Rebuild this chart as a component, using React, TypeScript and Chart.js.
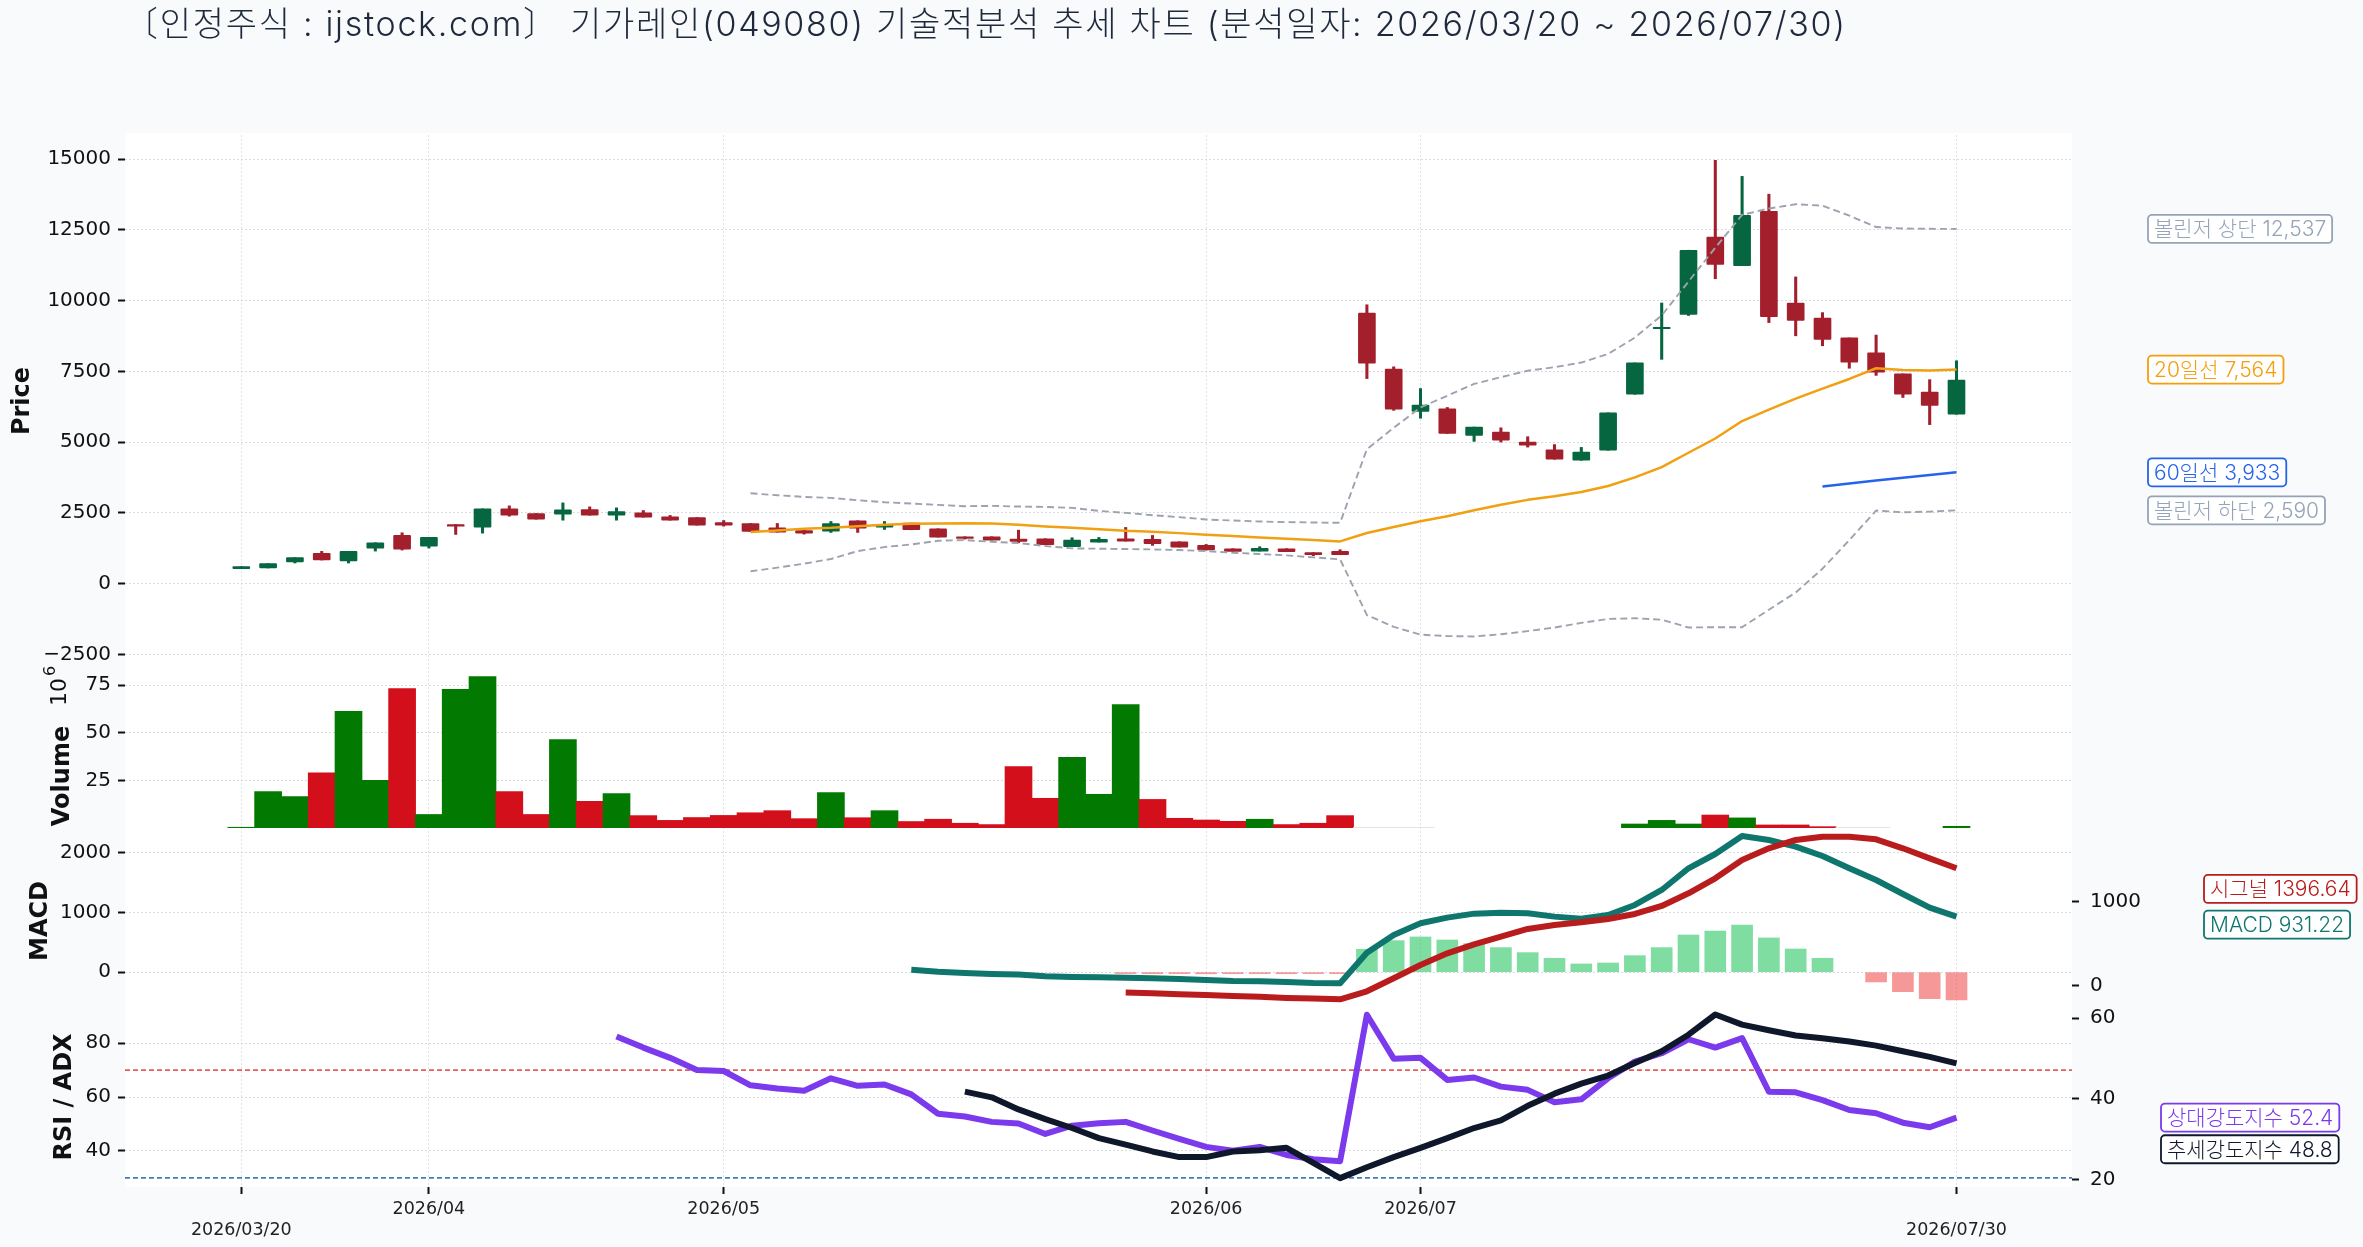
import React, { useEffect, useRef } from "react";
import Chart from "chart.js/auto";

const TITLE = "〔인정주식 : ijstock.com〕 기가레인(049080) 기술적분석 추세 차트 (분석일자: 2026/03/20 ~ 2026/07/30)";

const xTickIndexes = [0, 7, 18, 36, 44, 64];
const xTickLabels = ["2026/03/20", "2026/04", "2026/05", "2026/06", "2026/07", "2026/07/30"];
const xTickRows = [1, 0, 0, 0, 0, 1];

const priceTicks = [-2500, 0, 2500, 5000, 7500, 10000, 12500, 15000];
const volumeTicks = [25, 50, 75];
const macdTicks = [0, 1000, 2000];
const signalTicks = [0, 1000];
const rsiTicks = [40, 60, 80];
const adxTicks = [20, 40, 60];

// 캔들 (index 0 = 03/20)
const opens = [528, 552, 763, 1068, 798, 1256, 1702, 1327, 2090, 1996, 2641, 2477, 2453, 2618, 2418, 2500, 2360, 2336, 2160, 2125, 1972, 1878, 1855, 2219, 1996, 2137, 1937, 1655, 1655, 1573, 1585, 1303, 1467, 1585, 1561, 1479, 1350, 1233, 1150, 1233, 1092, 1139, 9566, 7587, 6087, 6175, 5242, 5356, 5003, 4725, 4360, 4713, 6692, 9012, 9516, 12252, 11243, 13159, 9919, 9390, 8684, 8154, 7411, 6768, 5986];
const closes = [599, 704, 916, 834, 1139, 1444, 1221, 1632, 2031, 2641, 2418, 2277, 2606, 2418, 2547, 2348, 2242, 2066, 2066, 1843, 1820, 1784, 2125, 1960, 2066, 1902, 1644, 1597, 1538, 1491, 1374, 1538, 1561, 1503, 1409, 1291, 1186, 1139, 1244, 1127, 1021, 1021, 7789, 6163, 6314, 5305, 5532, 5066, 4889, 4397, 4650, 6036, 7801, 9062, 11785, 11281, 13021, 9440, 9302, 8634, 7827, 7474, 6692, 6301, 7196];
const highs = [599, 704, 916, 1139, 1139, 1444, 1796, 1632, 2090, 2641, 2747, 2477, 2853, 2712, 2677, 2583, 2407, 2336, 2230, 2125, 2125, 1878, 2195, 2219, 2195, 2137, 1937, 1655, 1655, 1890, 1585, 1620, 1632, 1984, 1702, 1479, 1385, 1233, 1303, 1233, 1092, 1197, 9856, 7663, 6894, 6226, 5532, 5507, 5192, 4914, 4814, 6036, 7801, 9919, 11785, 14962, 14395, 13765, 10840, 9579, 8684, 8785, 7411, 7209, 7877];
const lows = [528, 552, 728, 834, 728, 1150, 1186, 1256, 1737, 1784, 2383, 2277, 2242, 2418, 2242, 2348, 2242, 2066, 2031, 1843, 1820, 1749, 1808, 1808, 1913, 1902, 1644, 1573, 1538, 1444, 1374, 1303, 1467, 1503, 1350, 1291, 1186, 1139, 1150, 1127, 986, 1021, 7247, 6125, 5847, 5305, 5028, 5003, 4826, 4397, 4360, 4713, 6692, 7927, 9478, 10777, 11243, 9226, 8759, 8407, 7612, 7360, 6579, 5620, 5986];

const ma20Start = 19;
const ma20 = [1820, 1878, 1937, 1972, 2031, 2078, 2113, 2125, 2137, 2125, 2078, 2019, 1972, 1925, 1867, 1831, 1784, 1726, 1679, 1632, 1585, 1538, 1491, 1788, 2002, 2204, 2381, 2595, 2784, 2960, 3087, 3238, 3452, 3755, 4120, 4625, 5129, 5746, 6150, 6541, 6894, 7234, 7612, 7549, 7537, 7564];
const ma60Start = 59;
const ma60 = [3432, 3541, 3648, 3744, 3841, 3933];
const bbStart = 19;
const bbUpper = [3193, 3123, 3064, 3029, 2947, 2876, 2829, 2782, 2735, 2747, 2724, 2712, 2677, 2571, 2500, 2418, 2348, 2266, 2231, 2195, 2172, 2160, 2148, 4750, 5507, 6226, 6642, 7058, 7297, 7524, 7650, 7814, 8117, 8697, 9478, 10676, 11873, 13033, 13260, 13411, 13361, 13008, 12605, 12554, 12542, 12537];
const bbLower = [434, 564, 704, 869, 1150, 1291, 1385, 1514, 1538, 1479, 1432, 1327, 1244, 1233, 1221, 1209, 1186, 1150, 1092, 1045, 998, 927, 857, -1112, -1528, -1805, -1856, -1868, -1793, -1680, -1553, -1389, -1250, -1225, -1275, -1553, -1541, -1541, -923, -317, 527, 1536, 2582, 2519, 2545, 2590];

// 거래량 (백만), 1 = green, 0 = red, 2 = pale
const volumes = [0.4, 19.1, 16.5, 29, 61.2, 25, 73.2, 7.1, 72.8, 79.5, 19.1, 7.1, 46.4, 14, 18.1, 6.5, 4, 5.5, 6.6, 8, 9.1, 4.9, 18.6, 5.4, 9.1, 3.4, 4.6, 2.5, 1.8, 32.2, 15.6, 37.1, 17.7, 64.8, 15, 5.1, 4.2, 3.5, 4.6, 1.8, 2.5, 6.5, 0.3, 0.3, 0.3, null, null, null, null, null, null, null, 2.1, 4, 2.1, 6.8, 5.3, 1.6, 1.6, 0.7, 0.3, 0.3, null, null, 0.9];
const volumeUp = [1, 1, 1, 0, 1, 1, 0, 1, 1, 1, 0, 0, 1, 0, 1, 0, 0, 0, 0, 0, 0, 0, 1, 0, 1, 0, 0, 0, 0, 0, 0, 1, 1, 1, 0, 0, 0, 0, 1, 0, 0, 0, 2, 2, 2, 0, 0, 0, 0, 0, 0, 0, 1, 1, 1, 0, 1, 0, 0, 0, 2, 2, 0, 0, 1];

const macdStart = 25;
const macd = [42, 9, -13, -30, -41, -69, -81, -86, -92, -103, -114, -131, -148, -153, -164, -181, -187, 327, 624, 820, 915, 982, 999, 988, 932, 898, 960, 1128, 1379, 1743, 1983, 2285, 2218, 2106, 1949, 1743, 1547, 1312, 1083, 931.22];
const signalStart = 33;
const signal = [-79, -87, -99, -107, -119, -127, -142, -150, -158, -63, 91, 249, 387, 494, 585, 676, 724, 755, 795, 854, 949, 1099, 1277, 1495, 1633, 1732, 1771, 1771, 1740, 1633, 1514, 1396.64];
const histStart = 33;
const hist = [-24, -26, -24, -27, -25, -24, -26, -24, -25, 384, 529, 591, 540, 479, 412, 328, 233, 138, 154, 277, 412, 624, 691, 792, 574, 389, 233, null, -164, -327, -444, -466];

const rsiStart = 14;
const rsi = [82.5, 78.4, 74.6, 70.1, 69.7, 64.4, 63.2, 62.4, 67, 64.2, 64.7, 61, 53.8, 52.8, 50.8, 50.2, 46.3, 49.4, 50.3, 50.8, 47.6, 44.5, 41.5, 40.1, 41.5, 38.5, 36.9, 36.2, 90.6, 74.3, 74.6, 66.4, 67.3, 63.9, 62.7, 58.1, 59.2, 67, 73.2, 76.3, 81.5, 78.4, 81.9, 62, 61.8, 58.9, 55.2, 54, 50.5, 48.8, 52.4];
const adxStart = 27;
const adx = [41.8, 40.4, 37.4, 35, 32.8, 30.3, 28.7, 27, 25.6, 25.6, 27, 27.3, 27.9, 24.2, 20.4, 23.1, 25.6, 27.9, 30.3, 32.8, 34.7, 38.3, 41.3, 43.8, 45.8, 48.9, 51.8, 55.9, 60.9, 58.4, 57, 55.7, 55, 54.2, 53.2, 51.8, 50.4, 48.8];

// 오른쪽 값 라벨: [text, color, axis, value, dy, left]
const sideLabels: [string, string, string, number, number, number][] = [
  ["볼린저 상단 12,537", "#94a3b8", "yPrice", 12537, 0, 2148],
  ["20일선 7,564", "#f59e0b", "yPrice", 7564, 0, 2148],
  ["60일선 3,933", "#2563eb", "yPrice", 3933, 0, 2148],
  ["볼린저 하단 2,590", "#94a3b8", "yPrice", 2590, 0, 2148],
  ["시그널 1396.64", "#b91c1c", "yMacd", 1396.64, 0, 2204],
  ["MACD 931.22", "#0f766e", "yMacd", 931.22, 8, 2204],
  ["상대강도지수 52.4", "#7c3aed", "yRsi", 52.4, 0, 2161],
  ["추세강도지수 48.8", "#0f172a", "yRsi", 48.8, 22, 2161],
];

// 패널 제목: [text, x, y]
const panelTitles: [string, number, number][] = [
  ["Price", 23, 401],
  ["Volume", 63, 776],
  ["MACD", 41, 921],
  ["RSI / ADX", 65, 1097],
];

const GREEN = "#05663f";
const RED = "#a31f2c";
const VOL_COLORS = ["#d40f1c", "#027a02", "#e6dfe0"];

const series = (start: number, list: (number | null)[]) => list.map((y, i) => ({ x: start + i, y }));

const setTicks = (list: number[]) => (axis: any) => {
  axis.ticks = list.map((value) => ({ value }));
};

const yAxis = (opts: any, list: number[]) => ({
  axis: "y",
  type: "linear",
  afterBuildTicks: setTicks(list),
  afterFit: (s: any) => {
    s.width = opts.position === "right" ? 291 : 125;
  },
  border: { display: false, dash: [2, 2] },
  grid: {
    color: "#d8dbe0",
    drawOnChartArea: opts.position !== "right",
    tickColor: "#111",
    tickWidth: 2,
    tickLength: 7,
    tickBorderDash: [],
  },
  ticks: {
    color: "#111",
    padding: opts.position === "right" ? 11 : 7,
    font: { family: "DejaVu Sans", size: 20 },
    callback: (v: number) => String(v).replace("-", "−"),
  },
  ...opts,
});

const overlayPlugin = {
  id: "overlay",
  beforeDraw(chart: any) {
    const { ctx, chartArea: a } = chart;
    ctx.save();
    ctx.fillStyle = "#f8fafc";
    ctx.fillRect(0, 0, chart.width, chart.height);
    ctx.fillStyle = "#ffffff";
    ctx.fillRect(a.left, a.top - 2, a.right - a.left, a.bottom - a.top + 2);
    ctx.restore();
  },
  afterDraw(chart: any) {
    const { ctx } = chart;
    ctx.save();
    ctx.textBaseline = "middle";
    ctx.fillStyle = "#1e293b";
    ctx.font = '300 34px Inter, "Noto Sans CJK KR"';
    ctx.letterSpacing = "1.7px";
    ctx.textAlign = "left";
    ctx.fillText(TITLE, 124, 26);
    ctx.letterSpacing = "0px";

    ctx.fillStyle = "#111";
    ctx.textAlign = "center";
    panelTitles.forEach(([text, x, y]) => {
      ctx.save();
      ctx.translate(x, y);
      ctx.rotate(-Math.PI / 2);
      ctx.font = 'bold 24px "DejaVu Sans"';
      ctx.fillText(text, 0, 0);
      ctx.restore();
    });
    ctx.save();
    ctx.translate(60, 692);
    ctx.rotate(-Math.PI / 2);
    ctx.font = '22px "DejaVu Sans"';
    ctx.fillText("10", 0, 0);
    ctx.font = '16px "DejaVu Sans"';
    ctx.fillText("6", 21, -9);
    ctx.restore();

    ctx.font = '300 21px Inter, "Noto Sans CJK KR"';
    ctx.textAlign = "left";
    sideLabels.forEach(([text, color, axis, value, dy, left]) => {
      const y = chart.scales[axis].getPixelForValue(value) + dy;
      const w = ctx.measureText(text).width + 12;
      ctx.beginPath();
      ctx.roundRect(left, y - 14, w, 28, 4);
      ctx.fillStyle = "#ffffff";
      ctx.fill();
      ctx.strokeStyle = color;
      ctx.lineWidth = 1.8;
      ctx.stroke();
      ctx.fillStyle = color;
      ctx.fillText(text, left + 6, y + 1);
    });
    ctx.restore();
  },
};

const App = () => {
  const chartRef = useRef<HTMLCanvasElement | null>(null);

  useEffect(() => {
    if (!chartRef.current) return;
    document.body.style.margin = "0";

    const days = opens.map((_, i) => i);
    const isUp = (i: number) => closes[i] >= opens[i];
    const candleColors = days.map((i) => (isUp(i) ? GREEN : RED));

    const line = (label: string, yAxisID: string, data: any[], color: string, width: number, extra: any = {}) => ({
      type: "line" as const,
      label,
      yAxisID,
      data,
      borderColor: color,
      borderWidth: width,
      pointRadius: 0,
      tension: 0,
      borderJoinStyle: "round" as const,
      ...extra,
    });

    const myChart = new Chart(chartRef.current, {
      type: "line",
      data: {
        datasets: [
          {
            type: "bar",
            label: "wick",
            yAxisID: "yPrice",
            data: days.map((i) => ({ x: i, y: [lows[i], highs[i]] })),
            backgroundColor: candleColors,
            barThickness: 2.4,
            grouped: false,
            order: 9,
          },
          {
            type: "bar",
            label: "body",
            yAxisID: "yPrice",
            data: days.map((i) => ({ x: i, y: [opens[i], closes[i]] })),
            backgroundColor: candleColors,
            barThickness: 17,
            borderRadius: 1,
            borderSkipped: false,
            grouped: false,
            order: 8,
          },
          line("볼린저 상단", "yPrice", series(bbStart, bbUpper), "#9ca3af", 1.9, { borderDash: [7, 4], order: 3 }),
          line("볼린저 하단", "yPrice", series(bbStart, bbLower), "#9ca3af", 1.9, { borderDash: [7, 4], order: 3 }),
          line("20일선", "yPrice", series(ma20Start, ma20), "#f0a010", 2.5, { order: 2 }),
          line("60일선", "yPrice", series(ma60Start, ma60), "#2563eb", 2.5, { order: 2 }),
          {
            type: "bar",
            label: "거래량",
            yAxisID: "yVolume",
            data: series(0, volumes),
            backgroundColor: volumeUp.map((u) => VOL_COLORS[u]),
            barThickness: 27,
            grouped: false,
            order: 8,
          },
          {
            type: "bar",
            label: "히스토그램",
            yAxisID: "yMacd",
            data: series(histStart, hist),
            backgroundColor: hist.map((v) => ((v ?? 0) >= 0 ? "rgba(34,197,94,0.58)" : "rgba(239,68,68,0.55)")),
            barThickness: 21,
            grouped: false,
            order: 8,
          },
          line("MACD", "yMacd", series(macdStart, macd), "#0f766e", 6, { order: 2 }),
          line("시그널", "ySignal", series(signalStart, signal), "#b91c1c", 6, { order: 1 }),
          line("상대강도지수", "yRsi", series(rsiStart, rsi), "#7c3aed", 6, { order: 2 }),
          line("추세강도지수", "yAdx", series(adxStart, adx), "#0f172a", 6, { order: 1 }),
          line("과매수", "yRsi", [{ x: -4.34, y: 70 }, { x: 68.31, y: 70 }], "rgba(220,38,38,0.75)", 1.8, { borderDash: [5, 3], order: 5 }),
          line("과매도", "yRsi", [{ x: -4.34, y: 30 }, { x: 68.31, y: 30 }], "rgba(37,99,180,0.85)", 1.8, { borderDash: [5, 3], order: 5 }),
        ] as any,
      },
      options: {
        animation: false,
        responsive: false,
        devicePixelRatio: 1,
        layout: { padding: { top: 135, left: 0, right: 0, bottom: 0 } },
        plugins: { legend: { display: false }, tooltip: { enabled: false } },
        scales: {
          x: {
            type: "linear",
            min: -4.34,
            max: 68.31,
            offset: false,
            afterBuildTicks: setTicks(xTickIndexes),
            afterFit: (s: any) => {
              s.height = 60;
            },
            border: { display: false, dash: [2, 2] },
            grid: { color: "#dfe2e6", offset: false, tickColor: "#111", tickWidth: 2, tickLength: 7, tickBorderDash: [] },
            ticks: {
              autoSkip: false,
              maxRotation: 0,
              color: "#222",
              padding: 5,
              font: { family: "DejaVu Sans", size: 17.5, lineHeight: 1.2 },
              callback: (v: number) => {
                const k = xTickIndexes.indexOf(v);
                if (k < 0) return "";
                return xTickRows[k] ? ["", xTickLabels[k]] : xTickLabels[k];
              },
            },
          },
          yRsi: yAxis({ position: "left", stack: "l", stackWeight: 183, min: 26.6, max: 94.6 }, rsiTicks),
          yMacd: yAxis({ position: "left", stack: "l", stackWeight: 176, min: -534, max: 2419 }, macdTicks),
          yVolume: yAxis({ position: "left", stack: "l", stackWeight: 160, min: 0, max: 84 }, volumeTicks),
          yPrice: yAxis({ position: "left", stack: "l", stackWeight: 533, min: -2984, max: 15858 }, priceTicks),
          yPriceR: yAxis({ position: "right", stack: "r", stackWeight: 533, display: false, min: 0, max: 1 }, []),
          yVolumeR: yAxis({ position: "right", stack: "r", stackWeight: 160, display: false, min: 0, max: 1 }, []),
          ySignal: yAxis({ position: "right", stack: "r", stackWeight: 176, min: -214, max: 1874 }, signalTicks),
          yAdx: yAxis({ position: "right", stack: "r", stackWeight: 183, min: 18.2, max: 63.5 }, adxTicks),
        },
      } as any,
      plugins: [overlayPlugin],
    } as any);

    return () => {
      myChart.destroy();
    };
  }, []);

  return <canvas ref={chartRef} width={2363} height={1247} style={{ display: "block" }} />;
};

export default App;
